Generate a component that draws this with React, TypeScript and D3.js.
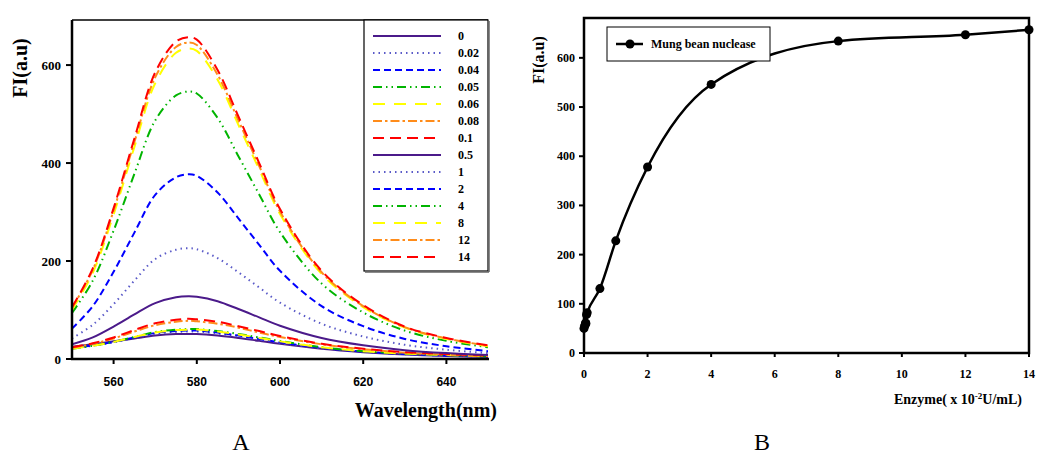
import * as d3 from "d3";

// Panel A: emission spectra
const wavelengths = [550, 555, 560, 565, 570, 575, 578, 580, 585, 590, 595, 600, 610, 620, 630, 640, 650];
const seriesLabels = ["0", "0.02", "0.04", "0.05", "0.06", "0.08", "0.1", "0.5", "1", "2", "4", "8", "12", "14"];
const spectra: number[][] = [
  [25, 30, 36, 42, 48, 51, 51, 51, 48, 43, 37, 31, 21, 14, 9, 6, 4],
  [22, 27, 34, 43, 51, 55, 56, 56, 52, 46, 40, 33, 22, 15, 10, 7, 5],
  [22, 28, 35, 44, 53, 57, 58, 58, 54, 48, 41, 34, 23, 15, 10, 7, 5],
  [21, 27, 35, 45, 55, 60, 61, 61, 57, 51, 44, 37, 24, 16, 11, 8, 5],
  [21, 27, 35, 45, 54, 59, 60, 60, 56, 50, 43, 36, 24, 16, 11, 8, 5],
  [23, 31, 42, 56, 69, 76, 78, 77, 72, 64, 54, 45, 30, 20, 13, 9, 6],
  [24, 32, 44, 59, 73, 80, 82, 81, 76, 67, 57, 47, 31, 21, 14, 10, 7],
  [30, 44, 66, 91, 114, 126, 128, 127, 118, 102, 85, 68, 43, 28, 18, 12, 8],
  [42, 70, 112, 160, 204, 223, 226, 224, 206, 177, 146, 115, 72, 46, 29, 19, 12],
  [62, 108, 178, 258, 335, 371, 377, 374, 340, 287, 233, 180, 108, 67, 41, 26, 16],
  [94, 160, 262, 378, 487, 538, 546, 542, 492, 414, 336, 259, 154, 95, 58, 37, 24],
  [100, 176, 295, 433, 563, 625, 634, 629, 570, 478, 387, 296, 174, 106, 64, 41, 26],
  [104, 182, 303, 443, 575, 637, 646, 641, 580, 487, 394, 301, 177, 108, 65, 42, 27],
  [106, 185, 308, 450, 585, 648, 657, 652, 590, 495, 400, 306, 180, 110, 66, 43, 28],
];
const seriesColors = ["#4b1a8a", "#5a5ac8", "#0000ff", "#00b400", "#ffff00", "#ff8c1a", "#ff0000"];
const seriesDashes = ["none", "1.5,4", "7,4", "9,4,1.5,4,1.5,4", "12,9", "9,3,2.5,3", "11,6"];
const xTicksA = [560, 580, 600, 620, 640];
const yTicksA = [0, 200, 400, 600];

// Panel B: FI vs enzyme concentration
const enzyme = [0, 0.02, 0.04, 0.05, 0.06, 0.08, 0.1, 0.5, 1, 2, 4, 8, 12, 14];
const intensity = [50, 55, 58, 61, 60, 78, 82, 131, 228, 378, 546, 634, 647, 657];
const xTicksB = [0, 2, 4, 6, 8, 10, 12, 14];
const yTicksB = [0, 100, 200, 300, 400, 500, 600];

const serif = "'Liberation Serif', 'Times New Roman', serif";
const sans = "'Liberation Sans', Arial, sans-serif";

export default function App() {
  // panel A scales
  const xA = d3.scaleLinear().domain([550, 650]).range([72, 488]);
  const yA = d3.scaleLinear().domain([0, 692]).range([359, 20]);
  const lineA = d3
    .line<number>()
    .x((_, i) => xA(wavelengths[i]))
    .y((d) => yA(d))
    .curve(d3.curveCatmullRom.alpha(0.5));

  // panel B scales
  const xB = d3.scaleLinear().domain([0, 14]).range([584, 1029]);
  const yB = d3.scaleLinear().domain([0, 681]).range([353, 18]);
  const lineB = d3
    .line<number>()
    .x((_, i) => xB(enzyme[i]))
    .y((d) => yB(d))
    .curve(d3.curveMonotoneX);

  const legendTop = 36;
  const legendStep = 17;

  return (
    <svg
      width={1037}
      height={455}
      style={{ position: "absolute", left: 0, top: 0, background: "#fff" }}
    >
      <defs>
        <clipPath id="clipA">
          <rect x={72} y={20} width={416} height={339} />
        </clipPath>
      </defs>

      {/* ---------- Panel A ---------- */}
      <g clipPath="url(#clipA)">
        {spectra.map((s, i) => (
          <path
            key={i}
            d={lineA(s) || ""}
            fill="none"
            stroke={seriesColors[i % 7]}
            strokeWidth={2}
            strokeDasharray={seriesDashes[i % 7]}
          />
        ))}
      </g>
      <line x1={72} x2={72} y1={20} y2={360} stroke="#000" strokeWidth={2.5} />
      <line x1={71} x2={489} y1={359} y2={359} stroke="#000" strokeWidth={2.5} />
      <line x1={72} x2={488} y1={20} y2={20} stroke="#000" strokeWidth={1.5} />
      {yTicksA.map((t) => (
        <g key={t}>
          <line x1={66} x2={72} y1={yA(t)} y2={yA(t)} stroke="#000" strokeWidth={2} />
          <text x={61} y={yA(t) + 4.5} textAnchor="end" fontFamily={serif} fontWeight="bold" fontSize={13}>
            {t}
          </text>
        </g>
      ))}
      {xTicksA.map((t) => (
        <g key={t}>
          <line x1={xA(t)} x2={xA(t)} y1={359} y2={364} stroke="#000" strokeWidth={2} />
          <text x={xA(t)} y={386} textAnchor="middle" fontFamily={sans} fontWeight="bold" fontSize={12}>
            {t}
          </text>
        </g>
      ))}
      <text
        transform="translate(27,68) rotate(-90)"
        textAnchor="middle"
        fontFamily={serif}
        fontWeight="bold"
        fontSize={20}
      >
        FI(a.u)
      </text>
      <text x={497} y={417} textAnchor="end" fontFamily={serif} fontWeight="bold" fontSize={20}>
        Wavelength(nm)
      </text>

      {/* legend A */}
      <rect x={364} y={20} width={124} height={251} fill="#fff" stroke="#000" strokeWidth={1.2} />
      <line x1={489} x2={489} y1={21} y2={272} stroke="#666" strokeWidth={1.5} />
      <line x1={365} x2={489} y1={272} y2={272} stroke="#666" strokeWidth={1.5} />
      {seriesLabels.map((lab, i) => (
        <g key={lab}>
          <line
            x1={373}
            x2={441}
            y1={legendTop + i * legendStep}
            y2={legendTop + i * legendStep}
            stroke={seriesColors[i % 7]}
            strokeWidth={2}
            strokeDasharray={seriesDashes[i % 7]}
          />
          <text x={458} y={legendTop + i * legendStep + 4} fontFamily={serif} fontWeight="bold" fontSize={12}>
            {lab}
          </text>
        </g>
      ))}
      <text x={241} y={450} textAnchor="middle" fontFamily={serif} fontSize={24}>
        A
      </text>

      {/* ---------- Panel B ---------- */}
      <rect x={584} y={18} width={445} height={335} fill="none" stroke="#000" strokeWidth={2.5} />
      {yTicksB.map((t) => (
        <g key={t}>
          <line x1={579} x2={584} y1={yB(t)} y2={yB(t)} stroke="#000" strokeWidth={2} />
          <text x={575} y={yB(t) + 4} textAnchor="end" fontFamily={serif} fontWeight="bold" fontSize={12}>
            {t}
          </text>
        </g>
      ))}
      {xTicksB.map((t) => (
        <g key={t}>
          <line x1={xB(t)} x2={xB(t)} y1={353} y2={357} stroke="#000" strokeWidth={2} />
          <text x={xB(t)} y={378} textAnchor="middle" fontFamily={serif} fontWeight="bold" fontSize={12}>
            {t}
          </text>
        </g>
      ))}
      <path d={lineB(intensity) || ""} fill="none" stroke="#000" strokeWidth={2.5} />
      {intensity.map((v, i) => (
        <circle key={i} cx={xB(enzyme[i])} cy={yB(v)} r={4.5} fill="#000" />
      ))}
      <text
        transform="translate(544,60) rotate(-90)"
        textAnchor="middle"
        fontFamily={serif}
        fontWeight="bold"
        fontSize={16}
      >
        FI(a.u)
      </text>
      <text x={1022} y={404} textAnchor="end" fontFamily={serif} fontWeight="bold" fontSize={14}>
        Enzyme( x 10
        <tspan dy={-5} fontSize={9}>-2</tspan>
        <tspan dy={5}>U/mL)</tspan>
      </text>

      {/* legend B */}
      <rect x={607} y={27} width={163} height={34} fill="#fff" stroke="#000" strokeWidth={1} />
      <line x1={616} x2={643} y1={44} y2={44} stroke="#000" strokeWidth={2.5} />
      <circle cx={630} cy={44} r={4.5} fill="#000" />
      <text x={651} y={48} fontFamily={serif} fontWeight="bold" fontSize={12}>
        Mung bean nuclease
      </text>
      <text x={762} y={450} textAnchor="middle" fontFamily={serif} fontSize={24}>
        B
      </text>
    </svg>
  );
}
